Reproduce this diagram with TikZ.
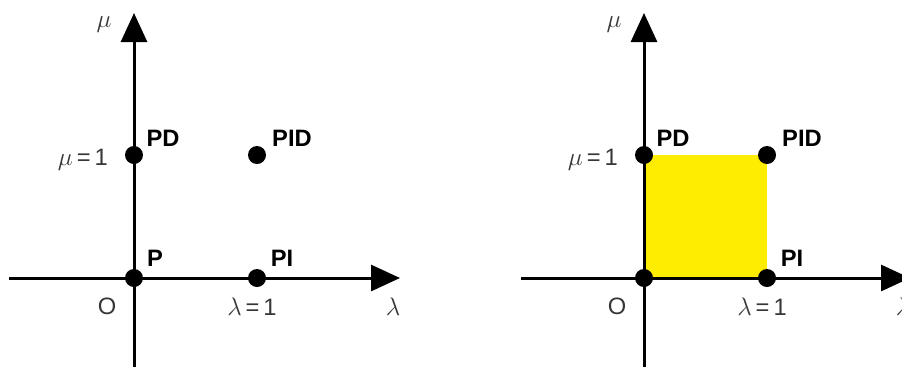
\documentclass[tikz,border=0pt]{standalone}
\usepackage{fontspec}
\newfontfamily\arialfont{Liberation Sans}
\usepackage{xcolor}
\usetikzlibrary{arrows.meta, positioning}
\definecolor{regionyellow}{RGB}{255,237,0}
\definecolor{labelgray}{RGB}{55,55,55}

\begin{document}
\begin{tikzpicture}[x=0.02cm, y=-0.02cm, >={Triangle[length=0.58cm, width=0.52cm]},
  axis/.style={line width=0.06cm, ->},
  pt/.style={circle, fill=black, inner sep=0pt, minimum size=0.36cm},
  ptlabel/.style={font=\arialfont\bfseries\fontsize{13.5}{15}\selectfont},
  valabel/.style={font=\arialfont\fontsize{13.5}{15}\selectfont, text=labelgray}]
  \useasboundingbox (0,0) rectangle (902,366);

  % Left: the four controller points only
  \coordinate (Lxs) at (9,278);   \coordinate (Lxe) at (400,278);
  \coordinate (Lys) at (134,370); \coordinate (Lye) at (134,13);
  \draw[axis] (Lxs) -- (Lxe);
  \draw[axis] (Lys) -- (Lye);
  \node[pt] (LP) at (134,278) {};
  \node[pt] (LPD) at (134,155) {};
  \node[pt] (LPI) at (257,278) {};
  \node[pt] (LPID) at (257,155) {};
  \node[ptlabel] (LPlab) at (155,258) {P};
  \node[ptlabel] (LPDlab) at (163,138) {PD};
  \node[ptlabel] (LPIlab) at (282,258) {PI};
  \node[ptlabel] (LPIDlab) at (292,138) {PID};
  \node[valabel, anchor=east] (Lmu1) at (114,160) {$\mu$\,=\,1};
  \node[valabel] (Llam1) at (252,307) {$\lambda$\,=\,1};
  \node[valabel] (LO) at (107,306) {O};
  \node[valabel] (Lmu) at (104,25) {$\mu$};
  \node[valabel] (Llam) at (393,307) {$\lambda$};

  % Right: same points, unit square filled
  \fill[regionyellow] (644,278) rectangle (767,155);
  \coordinate (Rxs) at (521,278); \coordinate (Rxe) at (910,278);
  \coordinate (Rys) at (644,370); \coordinate (Rye) at (644,13);
  \draw[axis] (Rxs) -- (Rxe);
  \draw[axis] (Rys) -- (Rye);
  \node[pt] (RP) at (644,278) {};
  \node[pt] (RPD) at (644,155) {};
  \node[pt] (RPI) at (767,278) {};
  \node[pt] (RPID) at (767,155) {};
  \node[ptlabel] (RPDlab) at (673,138) {PD};
  \node[ptlabel] (RPIlab) at (792,258) {PI};
  \node[ptlabel] (RPIDlab) at (802,138) {PID};
  \node[valabel, anchor=east] (Rmu1) at (624,160) {$\mu$\,=\,1};
  \node[valabel] (Rlam1) at (762,307) {$\lambda$\,=\,1};
  \node[valabel] (RO) at (617,306) {O};
  \node[valabel] (Rmu) at (614,25) {$\mu$};
  \node[valabel] (Rlam) at (903,307) {$\lambda$};
\end{tikzpicture}
\end{document}
